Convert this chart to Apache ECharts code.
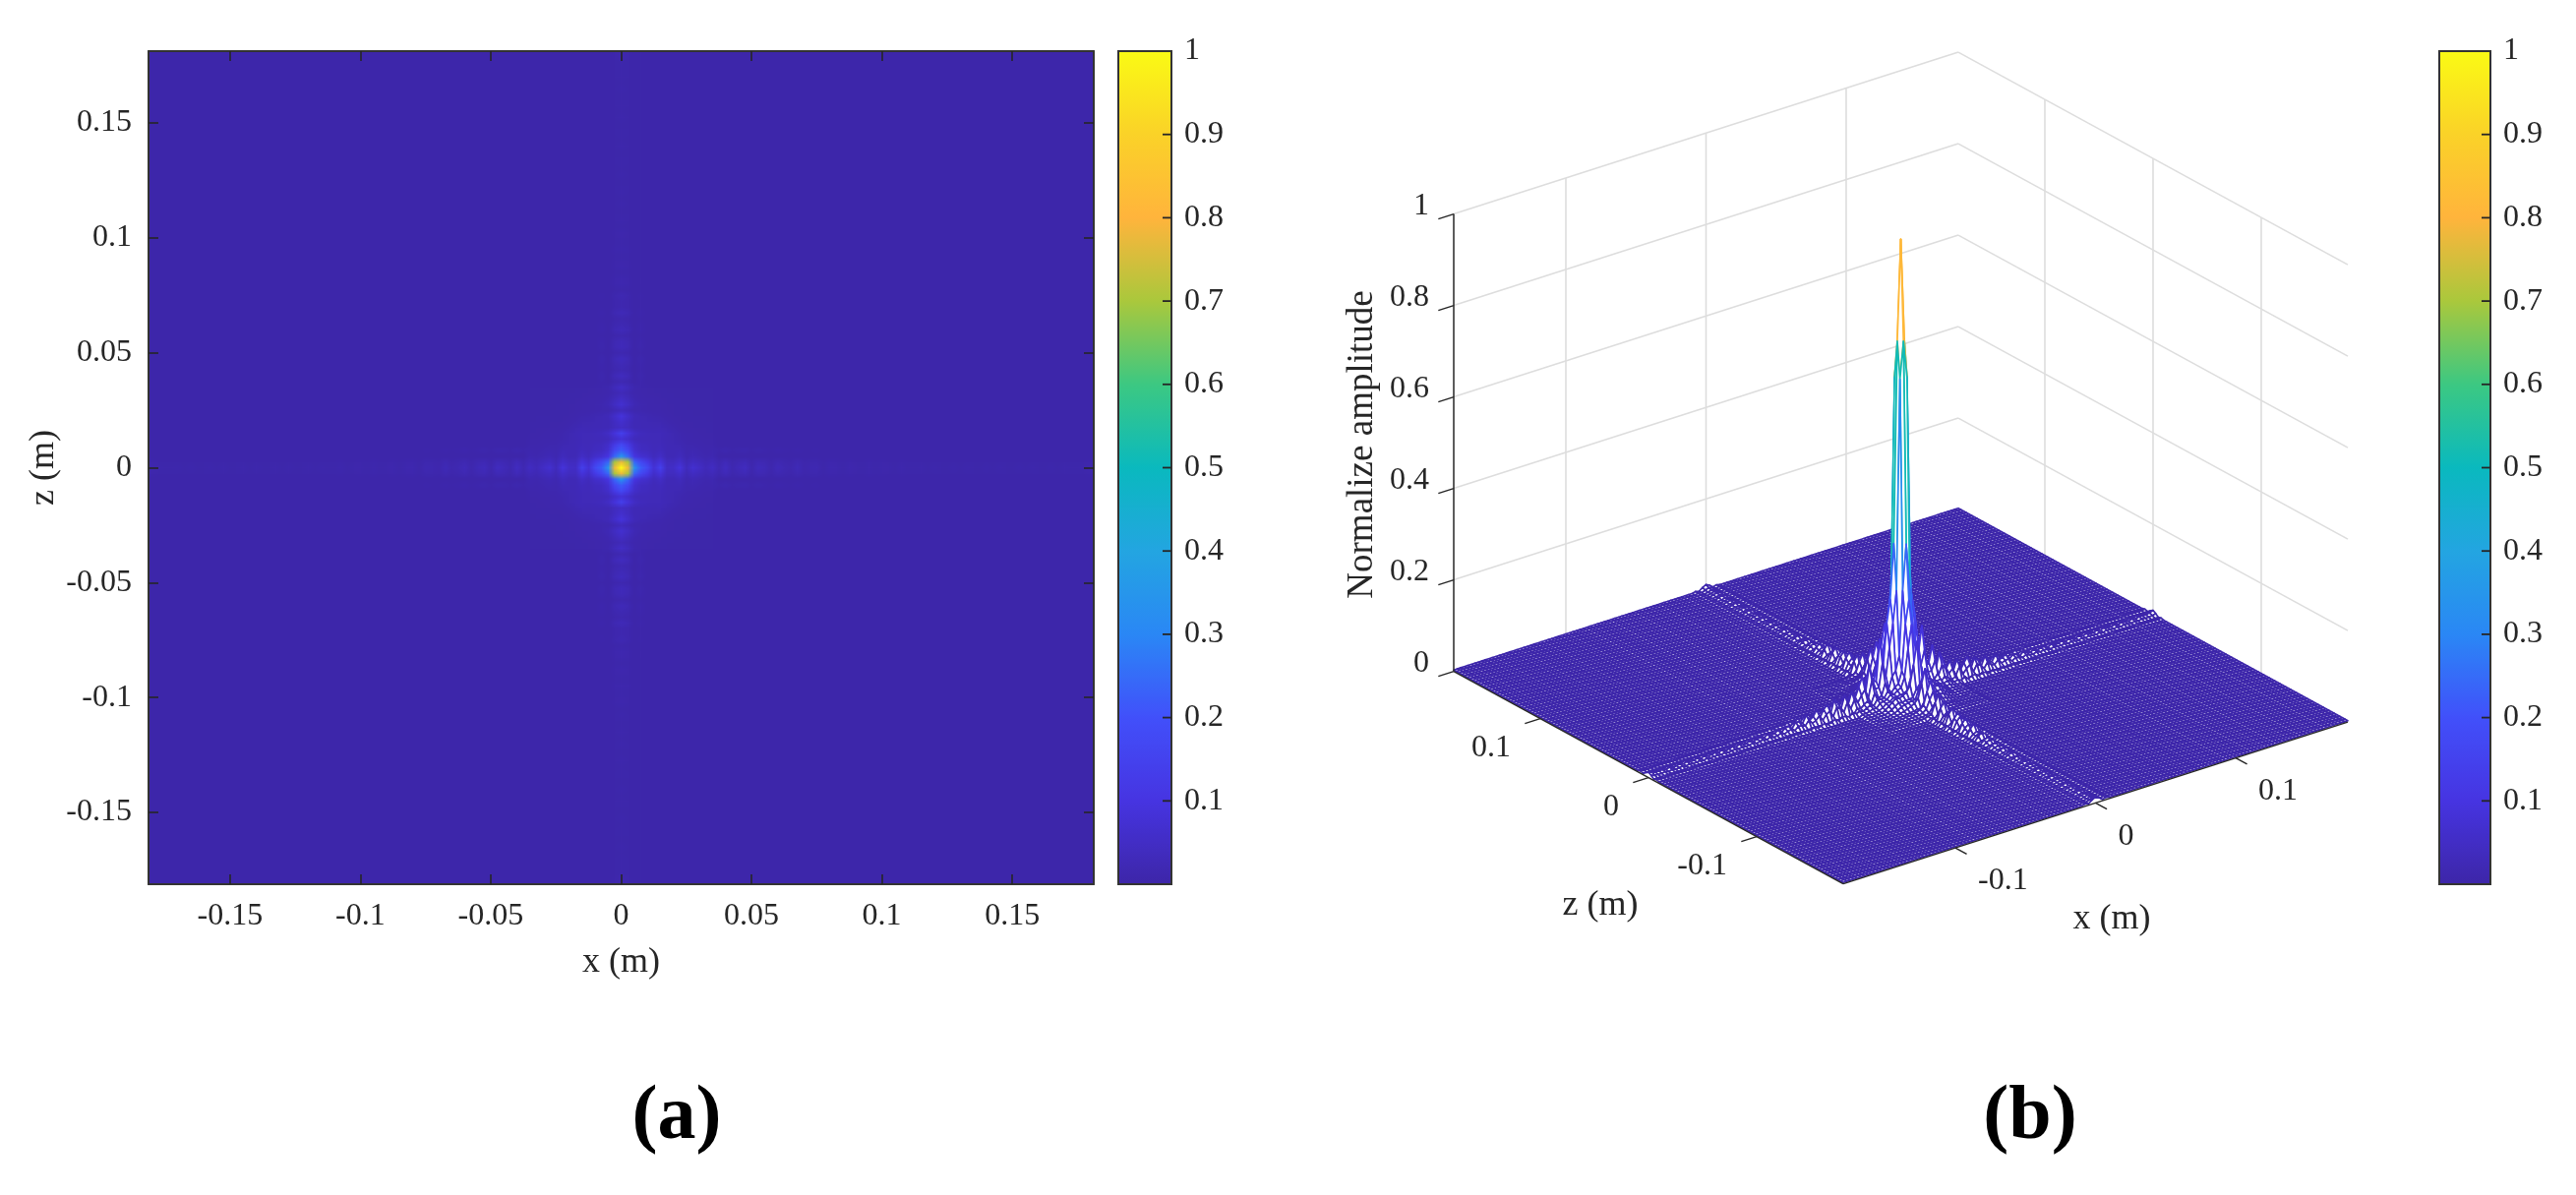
<!DOCTYPE html>
<html><head><meta charset="utf-8"><style>html,body{margin:0;padding:0;background:#fff}#c{width:2619px;height:1215px}</style>
<script src="https://cdn.jsdelivr.net/npm/echarts@6/dist/echarts.min.js"></script></head><body><div id="c"></div>
<script>
// ---------- values ----------
const gridStart = -0.18, gridStep = 0.0025, gridCount = 145;
const xTickValues = [-0.15,-0.1,-0.05,0,0.05,0.1,0.15];
const xTickLabels = ['-0.15','-0.1','-0.05','0','0.05','0.1','0.15'];
const surfXTicks = [-0.1,0,0.1], surfXLabels = ['-0.1','0','0.1'];
const surfZTicks = [-0.1,0,0.1], surfZLabels = ['-0.1','0','0.1'];
const ampTicks = [0,0.2,0.4,0.6,0.8,1], ampLabels = ['0','0.2','0.4','0.6','0.8','1'];
const floorLevel = 0.003;
// amplitude around the peak: rows = |z offset| in grid cells, columns = |x offset|
const peakQuadrant = [
[1.00,.78,.34,.22,.17,.08,.14,.05,.055,.09,.035,.07,.05,.03,.045],
[.78,.70,.24,.17,.12,.06,.09,.04,.04,.06,.025,.045,.035,.022,.03],
[.34,.24,.10,.07,.06,.035,.05,.025,.024,.035,.015,.024,.018,.012,.015],
[.22,.17,.07,.045,.04,.03,.036,.024,.024,.026,.014,.018,.014,.01,.012],
[.17,.12,.06,.04,.036,.03,.032,.024,.022,.02,.012,.013,.01,.008,.008],
[.08,.06,.035,.03,.03,.028,.028,.022,.02,.014,.01,.009,.008,.007,.007],
[.14,.09,.05,.036,.032,.028,.03,.024,.018,.012,.008,.008,.007,.006,.006],
[.05,.04,.025,.024,.024,.022,.024,.018,.013,.009,.007,.007,.006,.006,.005],
[.065,.045,.024,.024,.022,.02,.018,.013,.009,.007,.006,.006,.005,.005,.005],
[.09,.06,.03,.022,.018,.014,.012,.009,.007,.006,.005,.005,.005,.005,.004],
[.035,.024,.012,.012,.01,.009,.008,.007,.006,.005,.005,.005,.004,.004,.004],
[.07,.048,.022,.014,.011,.009,.008,.007,.006,.005,.005,.004,.004,.004,.004],
[.05,.034,.016,.01,.008,.008,.007,.006,.005,.005,.004,.004,.004,.004,.004],
[.028,.02,.01,.008,.007,.006,.006,.005,.005,.004,.004,.004,.004,.004,.004],
[.05,.034,.012,.009,.007,.006,.005,.005,.004,.004,.004,.004,.004,.004,.004]];
// ridge along x (z = 0), offsets 15..72 cells: centre row, rows +-1, and the faint side lobe at rows +-3
const ridgeXCentre = [.02,.042,.016,.03,.04,.012,.034,.026,.011,.03,.018,.012,.026,.01,.016,.018,.006,.014,.012,.006,.013,.008,.006,.011,.006,.009,.009,.005,.01,.006,.006,.009,.005,.009,.006,.005,.009,.005,.008,.006,.005,.008,.005,.008,.006,.005,.008,.005,.008,.006,.005,.008,.005,.008,.007,.007,.009,.012];
const ridgeXSide = [.014,.03,.011,.02,.027,.009,.023,.018,.008,.02,.012,.009,.018,.008,.011,.012,.005,.01,.008,.005,.009,.006,.005,.008,.005,.007,.006,.004,.007,.005,.005,.006,.004,.006,.005,.004,.006,.004,.006,.005,.004,.006,.004,.006,.005,.004,.006,.004,.006,.005,.004,.006,.004,.006,.005,.005,.006,.008];
const ridgeXLobe = [.009,.014,.007,.011,.012,.006,.011,.009,.005,.01,.007,.005,.009,.005,.006,.007,.004,.006,.005,.004,.006,.004,.004,.005,.004,.005,.004,.004,.005,.004,.004,.005,.004,.004,.004,.004,.004,.004,.004,.004,.004,.004,.004,.004,.004,.004,.004,.004,.004,.004,.004,.004,.004,.004,.004,.004,.004,.005];
// ridge along z (x = 0)
const ridgeZCentre = [.018,.04,.02,.026,.036,.014,.032,.028,.012,.03,.02,.012,.028,.014,.014,.019,.007,.014,.013,.006,.013,.009,.006,.011,.007,.008,.01,.005,.009,.006,.006,.008,.006,.008,.006,.005,.008,.006,.007,.006,.005,.008,.006,.007,.006,.005,.008,.006,.007,.006,.006,.008,.006,.007,.007,.007,.009,.013];
const ridgeZSide = [.013,.028,.014,.018,.025,.01,.022,.019,.009,.021,.014,.009,.019,.01,.01,.013,.005,.01,.009,.005,.009,.007,.005,.008,.005,.006,.007,.004,.006,.005,.004,.006,.004,.006,.005,.004,.006,.004,.006,.005,.004,.006,.004,.006,.005,.004,.006,.004,.006,.005,.004,.006,.004,.006,.005,.005,.006,.009];
const ridgeZLobe = [.008,.013,.008,.01,.012,.006,.011,.01,.005,.01,.008,.005,.009,.006,.006,.007,.004,.006,.006,.004,.006,.004,.004,.005,.004,.004,.005,.004,.004,.004,.004,.004,.004,.004,.004,.004,.004,.004,.004,.004,.004,.004,.004,.004,.004,.004,.004,.004,.004,.004,.004,.004,.004,.004,.004,.004,.004,.005];
// colormap stops
const colorStops = ['#3d26a8','#4634e1','#4150fa','#2a87f5','#23a5e1','#0ab9be','#3cc882','#aac83c','#ffb43c','#fad228','#fafa14'];
const colorbarTicks = [0,.1,.2,.3,.4,.5,.6,.7,.8,.9,1];

// ---------- assemble amplitude grid ----------
function amplitude(ix, iz){
  const dx = Math.abs(ix-72), dz = Math.abs(iz-72);
  if (dx<=14 && dz<=14) return peakQuadrant[dz][dx];
  if (dz<=3 && dx>14) return dz===0?ridgeXCentre[dx-15]:dz===1?ridgeXSide[dx-15]:dz===3?ridgeXLobe[dx-15]:floorLevel;
  if (dx<=3 && dz>14) return dx===0?ridgeZCentre[dz-15]:dx===1?ridgeZSide[dz-15]:dx===3?ridgeZLobe[dz-15]:floorLevel;
  return floorLevel;
}
const amp = [];
for (let iz=0;iz<gridCount;iz++){const r=[];for(let ix=0;ix<gridCount;ix++)r.push(amplitude(ix,iz));amp.push(r);}
const coords = Array.from({length:gridCount},(_,i)=>(gridStart+i*gridStep).toFixed(4));
const heatData = [];
for (let iz=0;iz<gridCount;iz++)for(let ix=0;ix<gridCount;ix++)heatData.push([ix,iz,amp[iz][ix]]);
const surfData = [];
for (let iz=gridCount-2;iz>=0;iz--)for(let ix=gridCount-2;ix>=0;ix--){
  surfData.push([ix,iz,amp[iz][ix],(amp[iz][ix]+amp[iz][ix+1]+amp[iz+1][ix]+amp[iz+1][ix+1])/4]);
}
const tickIdx = {}; xTickValues.forEach((v,i)=>{tickIdx[Math.round((v-gridStart)/gridStep)]=xTickLabels[i];});
const tickInterval = i => tickIdx[i]!==undefined;

// smooth shading of the same cells (like MATLAB's interpolated shading): one canvas pixel per cell
const shadeCanvas = document.createElement('canvas');
shadeCanvas.width = gridCount; shadeCanvas.height = gridCount;
(function(){
  const g = shadeCanvas.getContext('2d');
  for (let iz=0;iz<gridCount;iz++)for(let ix=0;ix<gridCount;ix++){
    g.fillStyle = echarts.color.lerp(amp[iz][ix],colorStops);
    g.fillRect(ix,gridCount-1-iz,1,1);
  }
})();
function renderShade(params,api){
  const a=api.coord([0,gridCount-1]), b=api.coord([gridCount-1,0]), s=api.size([1,1]);
  return {type:'image',style:{image:shadeCanvas,x:a[0]-s[0]/2,y:a[1]-s[1]/2,width:b[0]-a[0]+s[0],height:b[1]-a[1]+s[1]}};
}

// ---------- view of the 3-D panel ----------
const FONT = '"Liberation Serif","Times New Roman",serif';
const INK = '#262626';
const O = [1874,898.6], VX = [513,-164.5], VZ = [-396,-216], VA = 465;
function proj(x,z,a){
  const s=(x+0.18)/0.36, t=(z+0.18)/0.36;
  return [O[0]+s*VX[0]+t*VZ[0], O[1]+s*VX[1]+t*VZ[1]-a*VA];
}
function line(api,p,q,color,w){
  const a=api.coord(p), b=api.coord(q);
  return {type:'line',shape:{x1:a[0],y1:a[1],x2:b[0],y2:b[1]},style:{stroke:color,lineWidth:w,fill:null}};
}
function text(api,p,dx,dy,str,align,size){
  const a=api.coord(p);
  return {type:'text',x:a[0]+dx,y:a[1]+dy,style:{text:str,font:size+'px '+FONT,fill:INK,textAlign:align,textVerticalAlign:'middle'}};
}
function renderWalls(params,api){
  const ch=[], G='#dddddd', E=0.18;
  ampTicks.forEach(a=>{
    ch.push(line(api,proj(-E,E,a),proj(E,E,a),G,1.6));
    ch.push(line(api,proj(E,E,a),proj(E,-E,a),G,1.6));
  });
  surfXTicks.forEach(x=>ch.push(line(api,proj(x,E,0),proj(x,E,1),G,1.6)));
  surfZTicks.forEach(z=>ch.push(line(api,proj(E,z,0),proj(E,z,1),G,1.6)));
  return {type:'group',children:ch};
}
function renderSurface(params,api){
  const ix=api.value(0), iz=api.value(1);
  const g=i=>gridStart+i*gridStep;
  const pts=[[ix,iz],[ix+1,iz],[ix+1,iz+1],[ix,iz+1]].map(c=>api.coord(proj(g(c[0]),g(c[1]),amp[c[1]][c[0]])));
  return {type:'polygon',shape:{points:pts},style:{fill:'#ffffff',stroke:api.visual('color'),lineWidth:1.7,lineJoin:'round'}};
}
function renderAxes(params,api){
  const ch=[], E=0.18;
  ch.push(line(api,proj(-E,E,0),proj(-E,E,1),INK,1.5));
  ch.push(line(api,proj(-E,-E,0),proj(-E,E,0),INK,1.5));
  ch.push(line(api,proj(-E,-E,0),proj(E,-E,0),INK,1.5));
  const TL=0.0105, TA=0.011;
  ampTicks.forEach((a,i)=>{
    ch.push(line(api,proj(-E,E,a),proj(-E-TA,E,a),INK,1.5));
    ch.push(text(api,proj(-E,E,a),-25,-8,ampLabels[i],'right',32));
  });
  surfZTicks.forEach((z,i)=>{
    ch.push(line(api,proj(-E,z,0),proj(-E-TA,z,0),INK,1.5));
    ch.push(text(api,proj(-E,z,0),-30,30,surfZLabels[i],'right',32));
  });
  surfXTicks.forEach((x,i)=>{
    ch.push(line(api,proj(x,-E,0),proj(x,-E-TL,0),INK,1.5));
    ch.push(text(api,proj(x,-E,0),23,34,surfXLabels[i],'left',32));
  });
  return {type:'group',children:ch};
}
function renderBarTick(params,api){
  const p=api.coord([1,api.value(1)]);
  return {type:'line',shape:{x1:p[0]-9,y1:p[1],x2:p[0],y2:p[1]},style:{stroke:INK,lineWidth:1.8,fill:null}};
}

const catAxis = (pos,labels,extra)=>Object.assign({
  type:'category',data:coords,gridIndex:0,position:pos,boundaryGap:true,z:10,
  axisLine:{show:true,onZero:false,lineStyle:{color:'#333',width:2}},
  axisTick:{show:true,inside:true,length:10,alignWithLabel:true,interval:(i)=>tickInterval(i),lineStyle:{color:INK,width:1.6}},
  axisLabel:{show:labels,interval:(i)=>tickInterval(i),formatter:(v,i)=>tickIdx[i]||'',color:INK,fontFamily:FONT,fontSize:32,margin:17},
  splitLine:{show:false},splitArea:{show:false}
},extra||{});

function cbarAxes(gi){
  return {
    x:{type:'value',gridIndex:gi,min:0,max:1,show:false},
    y:{type:'value',gridIndex:gi,min:0,max:1,interval:0.1,position:'right',z:10,
      axisLine:{show:false,onZero:false},splitLine:{show:false},axisTick:{show:false},
      axisLabel:{show:true,inside:false,margin:13,color:INK,fontFamily:FONT,fontSize:32,customValues:colorbarTicks.slice(1),formatter:v=>String(+v.toFixed(1))}}
  };
}
const cbA=cbarAxes(1), cbB=cbarAxes(2);
const barTickData = colorbarTicks.slice(1,-1).map(v=>[1,v]);

const vm = (si,dim,left,w)=>({type:'continuous',seriesIndex:si,dimension:dim,min:0,max:1,left:left,top:52,itemWidth:w,itemHeight:847,padding:0,z:1,calculable:false,realtime:false,text:null,showLabel:false,hoverLink:false,inRange:{color:colorStops},textStyle:{fontSize:0,color:'transparent'},formatter:()=>''});
const chart = echarts.init(document.getElementById('c'),null,{renderer:'canvas'});
chart.setOption({
  animation:false,backgroundColor:'#ffffff',
  title:[
    {text:'(a)',left:683,top:1132,textAlign:'center',textVerticalAlign:'middle',textStyle:{fontFamily:FONT,fontWeight:'bold',fontSize:78,color:'#000'}},
    {text:'(b)',left:2059,top:1132,textAlign:'center',textVerticalAlign:'middle',textStyle:{fontFamily:FONT,fontWeight:'bold',fontSize:78,color:'#000'}}
  ],
  grid:[
    {left:151,top:52,width:961,height:847,show:true,backgroundColor:colorStops[0],borderWidth:0},
    {left:1137,top:52,width:54,height:847,show:true,backgroundColor:'transparent',borderColor:'#333',borderWidth:2,z:10},
    {left:2480,top:52,width:52,height:847,show:true,backgroundColor:'transparent',borderColor:'#333',borderWidth:2,z:10},
    {left:0,top:0,width:2619,height:1215,show:false}
  ],
  xAxis:[
    catAxis('bottom',true,{name:'x (m)',nameLocation:'middle',nameGap:62,nameTextStyle:{color:INK,fontFamily:FONT,fontSize:36}}),
    catAxis('top',false),
    cbA.x,cbB.x,
    {type:'value',gridIndex:3,min:0,max:2619,show:false}
  ],
  yAxis:[
    catAxis('left',true,{name:'z (m)',nameLocation:'middle',nameGap:88,nameRotate:90,nameTextStyle:{color:INK,fontFamily:FONT,fontSize:36}}),
    catAxis('right',false),
    cbA.y,cbB.y,
    {type:'value',gridIndex:3,min:0,max:1215,inverse:true,show:false}
  ],
  visualMap:[vm(0,2,1137,54),vm(2,3,2480,52)],
  series:[
    {type:'heatmap',xAxisIndex:0,yAxisIndex:0,data:heatData,progressive:0,silent:true,emphasis:{disabled:true},z:2},
    {type:'custom',name:'walls',xAxisIndex:4,yAxisIndex:4,data:[[0,0]],renderItem:renderWalls,silent:true,z:2},
    {type:'custom',name:'surface',xAxisIndex:4,yAxisIndex:4,data:surfData,renderItem:renderSurface,progressive:0,silent:true,z:3,dimensions:['ix','iz','amp','shade'],encode:{x:0,y:1}},
    {type:'custom',name:'axes',xAxisIndex:4,yAxisIndex:4,data:[[0,0]],renderItem:renderAxes,silent:true,z:4},
    {type:'custom',name:'shading',xAxisIndex:0,yAxisIndex:0,data:[[0,0]],renderItem:renderShade,silent:true,z:3},
    {type:'custom',name:'ticksA',xAxisIndex:2,yAxisIndex:2,data:barTickData,renderItem:renderBarTick,silent:true,z:20},
    {type:'custom',name:'ticksB',xAxisIndex:3,yAxisIndex:3,data:barTickData,renderItem:renderBarTick,silent:true,z:20}
  ],
  graphic:[
    {type:'text',x:1627,y:921,style:{text:'z (m)',font:'36px '+FONT,fill:INK,textAlign:'center',textVerticalAlign:'middle'}},
    {type:'text',x:2147,y:935,style:{text:'x (m)',font:'36px '+FONT,fill:INK,textAlign:'center',textVerticalAlign:'middle'}},
    {type:'text',x:1385,y:452,rotation:Math.PI/2,style:{text:'Normalize amplitude',font:'37px '+FONT,fill:INK,textAlign:'center',textVerticalAlign:'middle'}}
  ]
});
</script></body></html>
